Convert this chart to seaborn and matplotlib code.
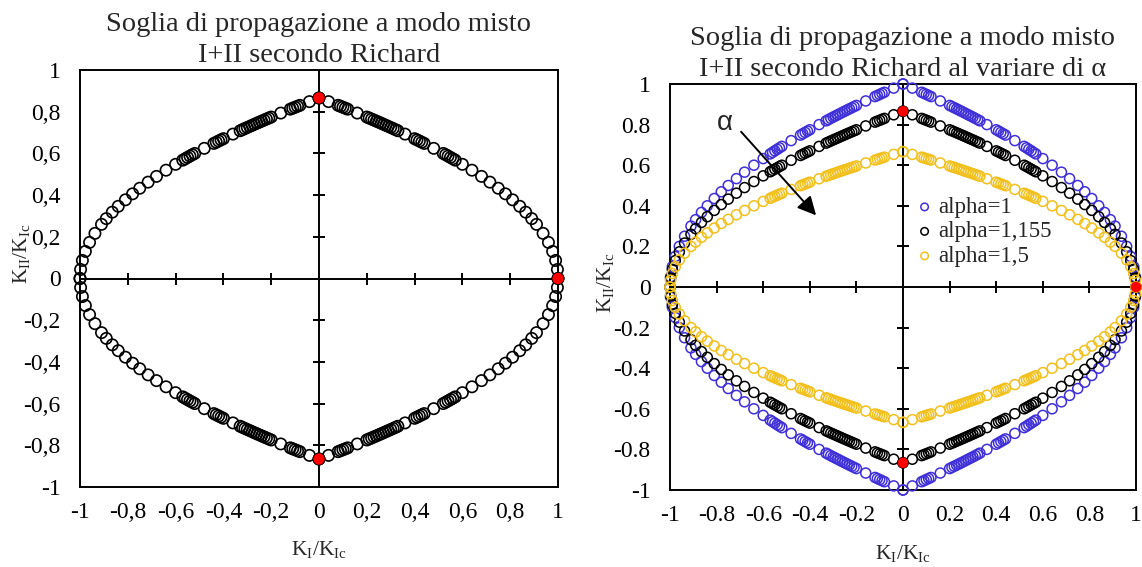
import numpy as np
import pandas as pd
import matplotlib
matplotlib.use("Agg")
import matplotlib.pyplot as plt
import seaborn as sns

# K_I/K_Ic values of one quadrant of the threshold curve (K_I >= 0, K_II >= 0)
KI = [0.0, 0.04, 0.08, 0.09, 0.10, 0.11, 0.12, 0.16, 0.20, 0.21, 0.22, 0.23,
      0.24, 0.25, 0.26, 0.27, 0.28, 0.29, 0.30, 0.31, 0.32, 0.33, 0.36, 0.40,
      0.41, 0.42, 0.43, 0.44, 0.48, 0.52, 0.53, 0.54, 0.55, 0.56, 0.57, 0.60,
      0.64, 0.68, 0.715, 0.75, 0.78, 0.81, 0.84, 0.865, 0.89, 0.91, 0.9375,
      0.96, 0.9775, 0.99, 0.9975, 1.0]

# K_II/K_Ic on the threshold for alpha = 1
KII_A1 = [1.0, 0.9798, 0.9592, 0.9539, 0.9487, 0.9434, 0.9381, 0.9165, 0.8944,
          0.8888, 0.8832, 0.8775, 0.8718, 0.8660, 0.8602, 0.8544, 0.8485,
          0.8426, 0.8367, 0.8307, 0.8246, 0.8185, 0.8000, 0.7746, 0.7681,
          0.7616, 0.7550, 0.7483, 0.7211, 0.6928, 0.6856, 0.6782, 0.6708,
          0.6633, 0.6557, 0.6325, 0.6000, 0.5657, 0.5339, 0.5000, 0.4690,
          0.4359, 0.4000, 0.3674, 0.3317, 0.3000, 0.2500, 0.2000, 0.1500,
          0.1000, 0.0500, 0.0]

# K_II/K_Ic on the threshold for alpha = 1,155
KII_A1155 = [0.8658, 0.8483, 0.8305, 0.8259, 0.8214, 0.8168, 0.8122, 0.7935,
             0.7744, 0.7695, 0.7647, 0.7597, 0.7548, 0.7498, 0.7448, 0.7397,
             0.7346, 0.7295, 0.7244, 0.7192, 0.7139, 0.7087, 0.6926, 0.6706,
             0.6650, 0.6594, 0.6537, 0.6479, 0.6243, 0.5998, 0.5936, 0.5872,
             0.5808, 0.5743, 0.5677, 0.5476, 0.5195, 0.4898, 0.4622, 0.4329,
             0.4061, 0.3774, 0.3463, 0.3181, 0.2872, 0.2597, 0.2165, 0.1732,
             0.1299, 0.0866, 0.0433, 0.0]

# K_II/K_Ic on the threshold for alpha = 1,5
KII_A15 = [0.6667, 0.6532, 0.6395, 0.6359, 0.6325, 0.6289, 0.6254, 0.6110,
           0.5963, 0.5925, 0.5888, 0.5850, 0.5812, 0.5773, 0.5735, 0.5696,
           0.5657, 0.5617, 0.5578, 0.5538, 0.5497, 0.5457, 0.5333, 0.5164,
           0.5121, 0.5077, 0.5033, 0.4989, 0.4807, 0.4619, 0.4571, 0.4521,
           0.4472, 0.4422, 0.4371, 0.4217, 0.4000, 0.3771, 0.3559, 0.3333,
           0.3127, 0.2906, 0.2667, 0.2449, 0.2211, 0.2000, 0.1667, 0.1333,
           0.1000, 0.0667, 0.0333, 0.0]

# pure mode I / pure mode II thresholds (alpha = 1,155)
RED_KI = [0.0, 0.0, 1.0]
RED_KII = [0.866, -0.866, 0.0]

SERIES_LABELS = ["alpha=1", "alpha=1,155", "alpha=1,5"]
SERIES_COLORS = ["#3f2fd8", "#000000", "#f2c01c"]

TICKS = [-1, -0.8, -0.6, -0.4, -0.2, 0, 0.2, 0.4, 0.6, 0.8, 1]
INNER_TICKS = [-0.8, -0.6, -0.4, -0.2, 0.2, 0.4, 0.6, 0.8]
LABELS_COMMA = ["-1", "-0,8", "-0,6", "-0,4", "-0,2", "0",
                "0,2", "0,4", "0,6", "0,8", "1"]
LABELS_DOT = ["-1", "-0.8", "-0.6", "-0.4", "-0.2", "0",
              "0.2", "0.4", "0.6", "0.8", "1"]

sns.set_theme(style="white")
plt.rcParams["font.family"] = ["Liberation Serif", "DejaVu Serif"]
plt.rcParams["mathtext.fontset"] = "custom"
plt.rcParams["mathtext.rm"] = "Liberation Serif"
plt.rcParams["mathtext.it"] = "Liberation Serif:italic"
plt.rcParams["axes.unicode_minus"] = False

TICK_FS = 17
LABEL_FS = 15.5
TITLE_FS = 20.5


def full_curve(ki, kii):
    """Mirror one quadrant into the four quadrants of the K_I-K_II plane."""
    ki = np.asarray(ki)
    kii = np.asarray(kii)
    x = np.concatenate([ki, -ki, ki, -ki])
    y = np.concatenate([kii, kii, -kii, -kii])
    return pd.DataFrame({"KI": x, "KII": y})


def style_axes(ax, labels):
    ax.set_xlim(-1, 1)
    ax.set_ylim(-1, 1)
    ax.set_xticks(TICKS)
    ax.set_yticks(TICKS)
    ax.set_xticklabels(labels, fontsize=TICK_FS)
    ax.set_yticklabels(labels, fontsize=TICK_FS)
    ax.tick_params(axis="both", length=0, colors="black")
    ax.tick_params(axis="x", pad=11)
    ax.tick_params(axis="y", pad=14)
    for sp in ax.spines.values():
        sp.set_visible(True)
        sp.set_color("black")
        sp.set_linewidth(1.4)
    # axes through the origin with crossing tick marks
    ax.axhline(0, color="black", lw=1.4, zorder=1)
    ax.axvline(0, color="black", lw=1.4, zorder=1)
    ax.plot(INNER_TICKS, np.zeros(len(INNER_TICKS)), ls="none", marker="|",
            ms=9, mew=1.4, color="black", zorder=1)
    ax.plot(np.zeros(len(INNER_TICKS)), INNER_TICKS, ls="none", marker="_",
            ms=9, mew=1.4, color="black", zorder=1)


fig = plt.figure(figsize=(11.42, 5.67), dpi=100)
ax1 = fig.add_axes([80 / 1142, 1 - 487 / 567, 478 / 1142, 417 / 567])
ax2 = fig.add_axes([670 / 1142, 1 - 490 / 567, 466 / 1142, 406 / 567])

# ---- left: Richard criterion, alpha = 1,155
style_axes(ax1, LABELS_COMMA)
sns.scatterplot(data=full_curve(KI, KII_A1155), x="KI", y="KII", ax=ax1,
                marker="o", s=66, facecolor="none", edgecolor="black",
                linewidth=1.2, clip_on=False, zorder=3)
sns.scatterplot(x=RED_KI, y=RED_KII, ax=ax1, marker="o", s=66,
                color="#ff0000", edgecolor="none", clip_on=False, zorder=4)
ax1.set_xlabel(r"$\mathrm{K_I/K_{Ic}}$", fontsize=LABEL_FS)
ax1.set_ylabel(r"$\mathrm{K_{II}/K_{Ic}}$", fontsize=LABEL_FS)
ax1.xaxis.set_label_coords(0.5, -0.125)
ax1.yaxis.set_label_coords(-0.10, 0.56)
ax1.set_title("Soglia di propagazione a modo misto\nI+II secondo Richard",
              fontsize=TITLE_FS, pad=6, linespacing=1.3)

# ---- right: effect of alpha
style_axes(ax2, LABELS_DOT)
for kii, lab, col in zip([KII_A1, KII_A1155, KII_A15], SERIES_LABELS,
                         SERIES_COLORS):
    sns.scatterplot(data=full_curve(KI, kii), x="KI", y="KII", ax=ax2,
                    marker="o", s=52, facecolor="none", edgecolor=col,
                    linewidth=1.1, clip_on=False, zorder=3, label=lab)
sns.scatterplot(x=RED_KI, y=RED_KII, ax=ax2, marker="o", s=58,
                color="#ff0000", edgecolor="none", clip_on=False, zorder=4)
ax2.set_xlabel(r"$\mathrm{K_I/K_{Ic}}$", fontsize=LABEL_FS)
ax2.set_ylabel(r"$\mathrm{K_{II}/K_{Ic}}$", fontsize=LABEL_FS)
ax2.xaxis.set_label_coords(0.5, -0.13)
ax2.yaxis.set_label_coords(-0.116, 0.51)
ax2.set_title("Soglia di propagazione a modo misto\n"
              "I+II secondo Richard al variare di α",
              fontsize=TITLE_FS, pad=6, linespacing=1.3)

handles, labels = ax2.get_legend_handles_labels()
leg = ax2.legend(handles[:3], labels[:3], loc="upper left",
                 bbox_to_anchor=(0.534, 0.722), bbox_transform=ax2.transAxes,
                 frameon=False, fontsize=16.5, borderpad=0, borderaxespad=0,
                 handlelength=0.5, handletextpad=0.35, labelspacing=0.15,
                 markerscale=0.75)

# arrow showing increasing alpha
ax2.annotate("", xy=(-0.373, 0.353), xytext=(-0.695, 0.765),
             arrowprops=dict(arrowstyle="-|>", color="black", lw=1.4,
                             mutation_scale=28, shrinkA=0, shrinkB=0))
ax2.text(-0.764, 0.809, "α", fontsize=20, ha="center", va="center",
         family=["Liberation Sans", "DejaVu Sans"])

fig.savefig("out.png", dpi=100)
